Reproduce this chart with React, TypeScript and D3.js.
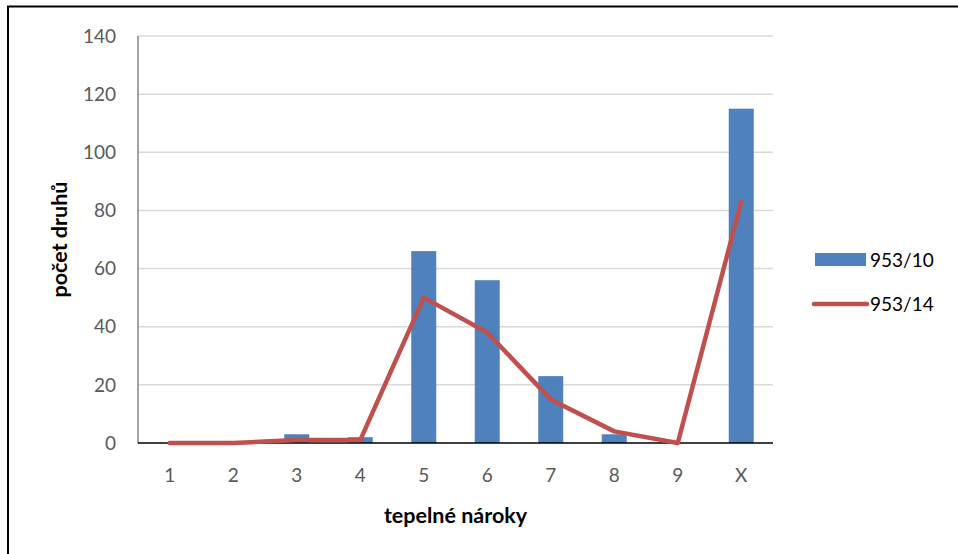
import React from "react";
import * as d3 from "d3";

const categories = ["1", "2", "3", "4", "5", "6", "7", "8", "9", "X"];
const series10 = [0, 0, 3, 2, 66, 56, 23, 3, 0, 115];
const series14 = [0, 0, 1, 1, 50, 38, 15, 4, 0, 83];
const yTicks = [0, 20, 40, 60, 80, 100, 120, 140];
const seriesNames = ["953/10", "953/14"];

const W = 958;
const H = 554;
const plot = { left: 138, right: 773, top: 36, bottom: 443 };
const font = "Lato, 'Open Sans', 'Liberation Sans', sans-serif";

export default function App() {
  const x = d3.scaleBand<string>().domain(categories).range([plot.left, plot.right]).paddingInner(0).paddingOuter(0);
  const y = d3.scaleLinear().domain([0, 140]).range([plot.bottom, plot.top]);
  const barW = 25;
  const cx = (c: string) => (x(c) as number) + x.bandwidth() / 2;
  const line = d3
    .line<number>()
    .x((_, i) => cx(categories[i]))
    .y((d) => y(d));

  return (
    <svg width={W} height={H} style={{ position: "absolute", left: 0, top: 0 }}>
      <rect x={0} y={0} width={W} height={H} fill="#fff" />
      <line x1={7} y1={6.5} x2={W} y2={6.5} stroke="#000" strokeWidth={2} />
      <line x1={8} y1={6} x2={8} y2={H} stroke="#000" strokeWidth={2} />
      {yTicks.map((t) => (
        <g key={t}>
          {t > 0 && (
            <line x1={plot.left} x2={plot.right} y1={y(t)} y2={y(t)} stroke="#d9d9d9" strokeWidth={1.5} />
          )}
          <text x={116} y={y(t)} dy="0.35em" textAnchor="end" fontFamily={font} fontSize={19} fill="#595959">
            {t}
          </text>
        </g>
      ))}
      <line x1={plot.left} x2={plot.left} y1={plot.top} y2={plot.bottom} stroke="#868686" strokeWidth={1.5} />
      {series10.map((v, i) => (
        <rect
          key={i}
          x={cx(categories[i]) - barW / 2}
          y={y(v)}
          width={barW}
          height={plot.bottom - y(v)}
          fill="#4f81bd"
        />
      ))}
      <line x1={plot.left} x2={plot.right} y1={plot.bottom} y2={plot.bottom} stroke="#000" strokeWidth={1.5} />
      <path d={line(series14) || ""} fill="none" stroke="#c0504d" strokeWidth={4.5} strokeLinejoin="round" strokeLinecap="round" />
      {categories.map((c) => (
        <text key={c} x={cx(c)} y={475} dy="0.35em" textAnchor="middle" fontFamily={font} fontSize={19} fill="#595959">
          {c}
        </text>
      ))}
      <text x={(plot.left + plot.right) / 2} y={515} dy="0.35em" textAnchor="middle" fontFamily={font} fontSize={21.5} fontWeight="bold" fill="#000">
        tepelné nároky
      </text>
      <text
        transform={`translate(59, ${(plot.top + plot.bottom) / 2}) rotate(-90)`}
        textAnchor="middle"
        dy="0.35em"
        fontFamily={font}
        fontSize={21.5}
        fontWeight="bold"
        fill="#000"
      >
        počet druhů
      </text>
      <rect x={815} y={253} width={51} height={13} fill="#4f81bd" />
      <text x={870} y={260} dy="0.35em" fontFamily={font} fontSize={19} fill="#000">
        {seriesNames[0]}
      </text>
      <line x1={814} x2={867} y1={304} y2={304} stroke="#c0504d" strokeWidth={4.5} strokeLinecap="round" />
      <text x={870} y={304} dy="0.35em" fontFamily={font} fontSize={19} fill="#000">
        {seriesNames[1]}
      </text>
    </svg>
  );
}
